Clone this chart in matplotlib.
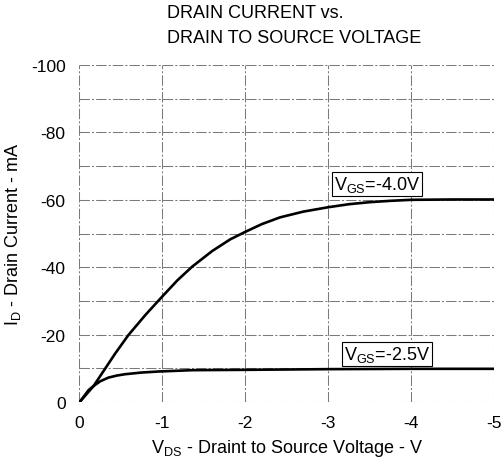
import matplotlib
matplotlib.use("Agg")
import matplotlib.pyplot as plt

plt.rcParams["font.family"] = ["Liberation Sans", "DejaVu Sans"]
plt.rcParams["mathtext.default"] = "regular"

# ── data ────────────────────────────────────────────────────
vds_40 = [0.0, -0.05, -0.17, -0.3, -0.43, -0.59, -0.8, -0.99, -1.18,
          -1.36, -1.6, -1.82, -2.0, -2.2, -2.42, -2.7, -3.0, -3.25,
          -3.5, -3.75, -4.0, -4.5, -5.0]
id_vgs40 = [0.0, -1.4, -4.8, -9.6, -14.4, -19.9, -26.0, -31.1, -36.1,
            -40.2, -44.8, -48.3, -50.5, -52.8, -54.8, -56.5, -57.8,
            -58.7, -59.3, -59.7, -60.0, -60.1, -60.1]

vds_25 = [0.0, -0.05, -0.11, -0.17, -0.25, -0.35, -0.45, -0.55, -0.75,
          -0.95, -1.36, -2.0, -3.0, -4.0, -5.0]
id_vgs25 = [0.0, -1.6, -3.6, -4.8, -6.2, -7.3, -7.9, -8.3, -8.8, -9.1,
            -9.5, -9.6, -9.8, -9.9, -9.9]

labels = [r"V$_{GS}$=-4.0V", r"V$_{GS}$=-2.5V"]
label_pos = [(-3.07, -64.7), (-3.19, -14.2)]

x_ticks = [0, -1, -2, -3, -4, -5]
y_ticks = [0, -20, -40, -60, -80, -100]
y_grid = list(range(0, -101, -10))

fig = plt.figure(figsize=(5.03, 4.64), dpi=100)
ax = fig.add_axes([0.158, 0.131, 0.824, 0.727])

grid_kw = dict(color="#7a7a7a", lw=0.75, ls=(0, (10, 2, 2, 2)), zorder=1)
for y in y_grid:
    ax.axhline(y, **grid_kw)
for x in x_ticks:
    ax.axvline(x, **grid_kw)

ax.plot(vds_40, id_vgs40, color="black", lw=1.9, zorder=3,
        solid_joinstyle="round")
ax.plot(vds_25, id_vgs25, color="black", lw=1.9, zorder=3,
        solid_joinstyle="round")

for lab, (x, y) in zip(labels, label_pos):
    ax.text(x, y, lab, fontsize=13, ha="left", va="center", zorder=4,
            bbox=dict(boxstyle="square,pad=0.12", fc="white",
                      ec="black", lw=0.8))

ax.set_xlim(0, -5)
ax.set_ylim(0, -100)
ax.set_xticks(x_ticks)
ax.set_xticklabels([f"{t:g}" for t in x_ticks])
ax.set_yticks(y_ticks)
ax.set_yticklabels([f"{t:g}" for t in y_ticks])
ax.tick_params(axis="x", length=0, labelsize=12.5, pad=9)
ax.tick_params(axis="y", length=0, labelsize=12.5, pad=10)
for s in ax.spines.values():
    s.set_visible(False)

ax.set_xlabel(r"V$_{DS}$ - Draint to Source Voltage - V", fontsize=13,
              labelpad=5)
ax.set_ylabel(r"I$_{D}$ - Drain Current - mA", fontsize=13, labelpad=6)

fig.text(0.332, 0.970, "DRAIN CURRENT vs.", fontsize=13, ha="left",
         va="center")
fig.text(0.332, 0.918, "DRAIN TO SOURCE VOLTAGE", fontsize=13, ha="left",
         va="center")

fig.savefig("out.png", dpi=100)
